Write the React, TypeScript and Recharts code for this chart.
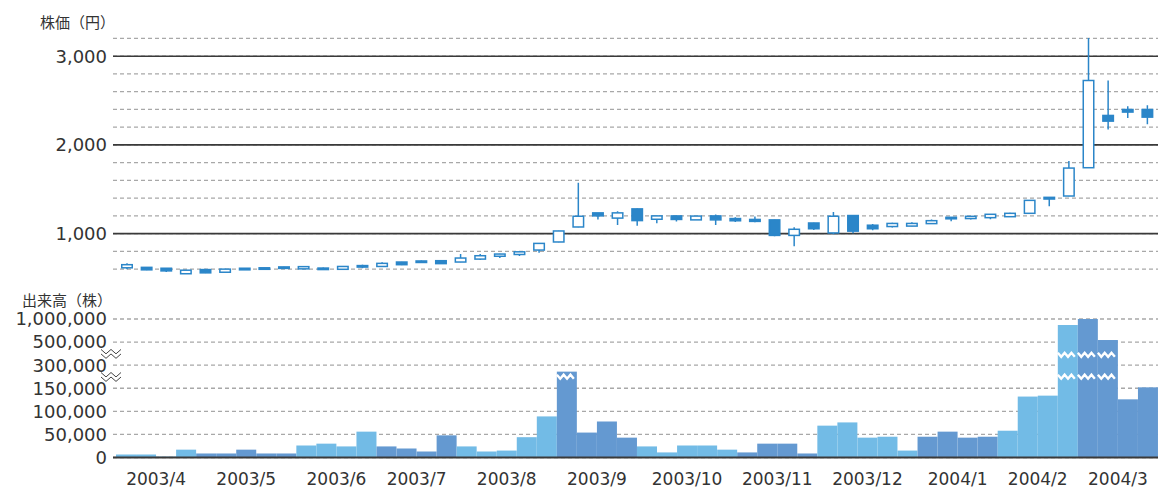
import React from "react";
import { ComposedChart, Bar, XAxis, YAxis, CartesianGrid, ReferenceLine } from "recharts";

// weekly candles, 2003/4 - 2004/3
const opens = [615, 620, 610, 548, 595, 565, 610, 598, 610, 603, 612, 598, 640, 630, 680, 675, 695, 680, 713, 745, 765, 815, 906, 1075, 1234, 1175, 1279, 1162, 1200, 1155, 1200, 1170, 1160, 1155, 980, 1120, 1008, 1204, 1095, 1080, 1085, 1113, 1184, 1170, 1180, 1191, 1229, 1409, 1424, 1743, 2332, 2399, 2399];
const closes = [650, 592, 580, 588, 558, 600, 592, 615, 625, 628, 600, 630, 625, 665, 650, 692, 662, 725, 751, 770, 795, 890, 1030, 1196, 1200, 1234, 1147, 1200, 1160, 1198, 1155, 1145, 1138, 980, 1049, 1055, 1196, 1028, 1055, 1115, 1115, 1146, 1168, 1195, 1218, 1229, 1375, 1390, 1739, 2726, 2268, 2370, 2313];
const highs = [665, 624, 612, 590, 603, 603, 612, 618, 628, 632, 618, 635, 650, 678, 682, 698, 700, 770, 770, 772, 798, 892, 1032, 1573, 1236, 1252, 1282, 1203, 1202, 1200, 1215, 1185, 1192, 1157, 1072, 1122, 1245, 1206, 1110, 1122, 1128, 1158, 1186, 1197, 1220, 1236, 1377, 1412, 1818, 3206, 2726, 2437, 2448];
const lows = [598, 588, 568, 545, 555, 562, 590, 596, 608, 600, 598, 596, 610, 625, 645, 670, 660, 678, 702, 725, 748, 785, 904, 1073, 1158, 1098, 1090, 1117, 1136, 1153, 1098, 1130, 1128, 970, 857, 1040, 992, 1004, 1038, 1070, 1082, 1110, 1139, 1158, 1161, 1188, 1227, 1308, 1422, 1740, 2174, 2302, 2234];

const priceTicks = [600, 800, 1000, 1200, 1400, 1600, 1800, 2000, 2200, 2400, 2600, 2800, 3000, 3200];
const priceMajor = [1000, 2000, 3000];

// volume, weekly
const months = ["2003/4", "2003/5", "2003/6", "2003/7", "2003/8", "2003/9", "2003/10", "2003/11", "2003/12", "2004/1", "2004/2", "2004/3"];
const weeksPerMonth = [4, 5, 4, 4, 5, 4, 5, 4, 5, 4, 4, 4];
const volumes = [
  6500, 6500, 2000, 17000,
  8700, 8700, 17000, 8700, 8700,
  26000, 30000, 24000, 56000,
  24000, 19500, 13000, 48000,
  24000, 13000, 15000, 44000, 89000,
  258000, 54000, 78000, 43000,
  24000, 11000, 26000, 26000, 17000,
  11000, 30000, 30000, 8700,
  69000, 76000, 43000, 45000, 15000,
  45000, 56000, 43000, 45000,
  58000, 132000, 134000, 870000,
  1000000, 545000, 126000, 156000,
];
const volumeTickLabels = ["0", "50,000", "100,000", "150,000", "300,000", "500,000", "1,000,000"];
const axisBreaks = [3.5, 4.5];
const barBreaks = [3.5, 4.45];

const BLUE = "#2b86c9";
const LIGHT = "#72bbe6";
const DARK = "#6499d1";
const NUM_FONT = "'DejaVu Sans', sans-serif";
const JP_FONT = "'Noto Sans CJK JP', sans-serif";

// broken volume axis: 0-150k linear, then one step each to 300k, 500k, 1M
function volToAxis(v: number) {
  if (v <= 150000) return v / 50000;
  if (v <= 300000) return 3 + (v - 150000) / 150000;
  if (v <= 500000) return 4 + (v - 300000) / 200000;
  return 5 + (v - 500000) / 500000;
}

const priceData = opens.map((o, i) => ({
  week: i,
  open: o,
  close: closes[i],
  high: highs[i],
  low: lows[i],
  range: [lows[i], highs[i]],
}));

const volumeData: any[] = [];
{
  let w = 0;
  months.forEach((m, mi) => {
    const n = weeksPerMonth[mi];
    for (let k = 0; k < n; k++) {
      volumeData.push({
        week: w,
        volume: volumes[w],
        disp: volToAxis(volumes[w]),
        color: mi % 2 === 0 ? LIGHT : DARK,
        label: k === Math.floor(n / 2) ? m : "",
        half: n % 2 === 0,
      });
      w++;
    }
  });
}

function Candle(props: any) {
  const { x, width, payload } = props;
  let { y, height } = props;
  if (height < 0) {
    y += height;
    height = -height;
  }
  const { open, close, high, low } = payload;
  const ppu = height / (high - low);
  const yOf = (v: number) => y + (high - v) * ppu;
  const up = close >= open;
  const top = yOf(Math.max(open, close));
  const bot = yOf(Math.min(open, close));
  const cx = x + width / 2;
  return (
    <g>
      <line x1={cx} x2={cx} y1={y} y2={top} stroke={BLUE} strokeWidth={1.5} />
      <line x1={cx} x2={cx} y1={bot} y2={y + height} stroke={BLUE} strokeWidth={1.5} />
      <rect
        x={x + 0.75}
        y={top}
        width={width - 1.5}
        height={Math.max(bot - top, 1.5)}
        fill={up ? "#fff" : BLUE}
        stroke={BLUE}
        strokeWidth={1.5}
      />
    </g>
  );
}

function zigzag(x0: number, x1: number, y: number, amp: number, step: number) {
  const pts: string[] = [];
  let i = 0;
  for (let x = x0; x <= x1 + 0.01; x += step, i++) {
    pts.push(`${x},${y + (i % 2 === 0 ? -amp : amp)}`);
  }
  return pts.join(" ");
}

function VolumeBar(props: any) {
  const { x, y, width, height, payload } = props;
  const base = y + height;
  const ppu = height / payload.disp;
  return (
    <g>
      <rect x={x} y={y} width={width} height={height} fill={payload.color} />
      {barBreaks
        .filter((b) => payload.disp > b + 0.12)
        .map((b) => (
          <polyline
            key={b}
            points={zigzag(x, x + width, base - b * ppu, 2, 3.4)}
            fill="none"
            stroke="#fff"
            strokeWidth={2.4}
          />
        ))}
    </g>
  );
}

function AxisBreak(props: any) {
  const { x1, y1 } = props;
  return (
    <g>
      <polyline points={zigzag(x1 - 12, x1 + 8, y1 - 2, 2.2, 5)} fill="none" stroke="#444" strokeWidth={1} />
      <polyline points={zigzag(x1 - 12, x1 + 8, y1 + 2.5, 2.2, 5)} fill="none" stroke="#444" strokeWidth={1} />
    </g>
  );
}

function MonthTick(props: any) {
  const { x, y, payload } = props;
  const d = volumeData[payload.index];
  if (!d || !d.label) return <g />;
  const shift = d.half ? -(payload.offset || 0) : 0;
  return (
    <text x={x + shift} y={y} dy={23} textAnchor="middle" fontSize={17} fontFamily={NUM_FONT} fill="#333">
      {d.label}
    </text>
  );
}

export default function App() {
  return (
    <div style={{ position: "absolute", left: 0, top: 0, width: 1158, height: 487, background: "#fff" }}>
      <div style={{ position: "absolute", left: 40, top: 14, fontSize: 15, lineHeight: "15px", fontFamily: JP_FONT, color: "#333", whiteSpace: "nowrap" }}>
        株価（円）
      </div>
      <div style={{ position: "absolute", left: 22, top: 292, fontSize: 15, lineHeight: "15px", fontFamily: JP_FONT, color: "#333", whiteSpace: "nowrap" }}>
        出来高（株）
      </div>

      <div style={{ position: "absolute", left: 0, top: 0 }}>
        <ComposedChart width={1158} height={290} data={priceData} margin={{ top: 34, right: 0, left: 0, bottom: 12 }}>
          <CartesianGrid vertical={false} syncWithTicks stroke="#a8a8a8" strokeDasharray="4 3" strokeWidth={1.3} />
          <CartesianGrid vertical={false} syncWithTicks horizontalValues={priceMajor} stroke="#3a3a3a" strokeWidth={1.6} />
          <XAxis dataKey="week" hide padding={{ left: 4, right: 1 }} />
          <YAxis
            width={113}
            domain={[500, 3250]}
            allowDataOverflow
            ticks={priceTicks}
            interval={0}
            axisLine={false}
            tickLine={false}
            tickSize={0}
            tickMargin={6}
            tick={{ fontSize: 18, fontFamily: NUM_FONT, fill: "#333" }}
            tickFormatter={(v: number) => (priceMajor.includes(v) ? v.toLocaleString("en-US") : "")}
          />
          <Bar dataKey="range" barSize={12} shape={<Candle />} isAnimationActive={false} />
        </ComposedChart>
      </div>

      <div style={{ position: "absolute", left: 0, top: 290 }}>
        <ComposedChart width={1158} height={197} data={volumeData} margin={{ top: 24.4, right: 0, left: 0, bottom: 0 }} barCategoryGap={0}>
          <CartesianGrid vertical={false} syncWithTicks stroke="#a8a8a8" strokeDasharray="4 3" strokeWidth={1.3} />
          <XAxis
            dataKey="week"
            height={29.5}
            padding={{ left: 3, right: 0 }}
            interval={0}
            axisLine={false}
            tickLine={false}
            tickSize={0}
            tickMargin={4}
            tick={<MonthTick />}
          />
          <YAxis
            width={113}
            domain={[0, 6.2]}
            allowDataOverflow
            ticks={[0, 1, 2, 3, 4, 5, 6]}
            interval={0}
            axisLine={false}
            tickLine={false}
            tickSize={0}
            tickMargin={6}
            tick={{ fontSize: 18, fontFamily: NUM_FONT, fill: "#333" }}
            tickFormatter={(v: number) => volumeTickLabels[v] ?? ""}
          />
          <Bar dataKey="disp" shape={<VolumeBar />} isAnimationActive={false} />
          <ReferenceLine y={0} stroke="#3a3a3a" strokeWidth={2} />
          {axisBreaks.map((b) => (
            <ReferenceLine key={b} y={b} stroke="none" shape={(p: any) => <AxisBreak {...p} />} />
          ))}
        </ComposedChart>
      </div>
    </div>
  );
}
